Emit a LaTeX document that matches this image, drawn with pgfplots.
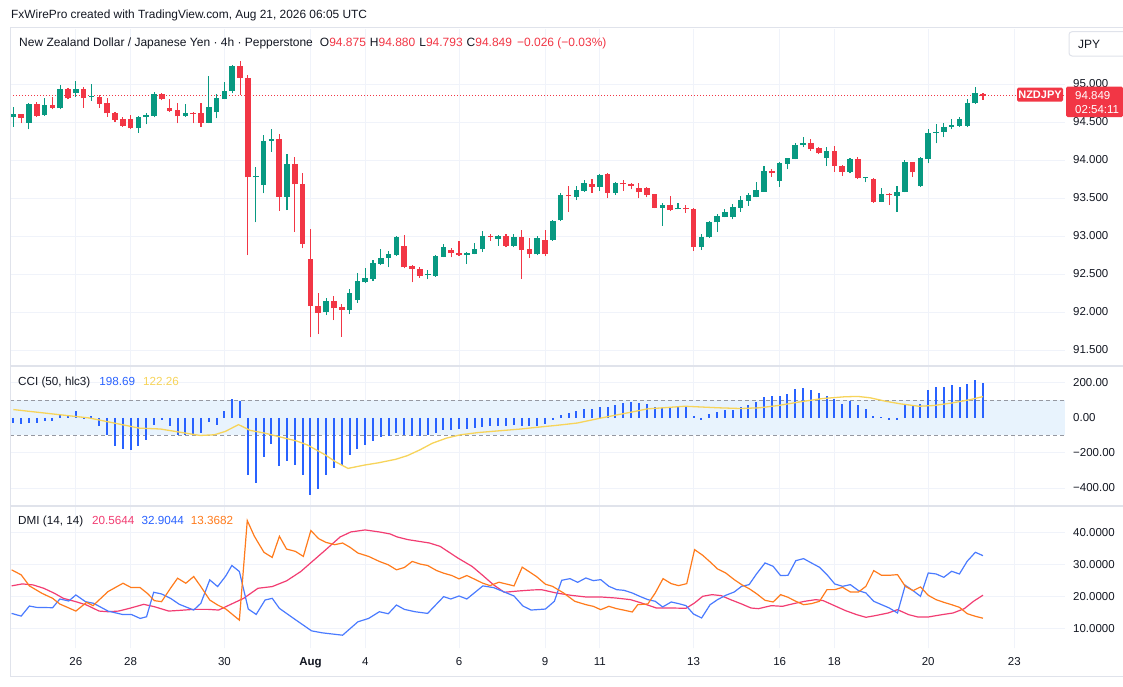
\documentclass[border=0pt]{standalone}
\usepackage{fontspec}
\setmainfont{Liberation Sans}
\usepackage{pgfplots}
\pgfplotsset{compat=1.18}
\usepackage{pgfplotstable}
\definecolor{tvgreen}{HTML}{089981}
\definecolor{tvred}{HTML}{F23645}
\definecolor{tvgrid}{HTML}{F0F3FA}
\definecolor{tvtext}{HTML}{131722}
\definecolor{tvborder}{HTML}{E0E3EB}
\definecolor{cciblue}{HTML}{2962FF}
\definecolor{ccima}{HTML}{F7D45A}
\definecolor{cciband}{HTML}{E8F3FD}
\definecolor{bandline}{HTML}{9598A1}
\definecolor{adxpink}{HTML}{F23D72}
\definecolor{diblue}{HTML}{4A7BFF}
\definecolor{diorange}{HTML}{FF7B1C}

\pgfplotstableread{
i O H L C
1 94.562 94.693 94.439 94.601
2 94.601 94.610 94.483 94.557
3 94.491 94.755 94.404 94.737
4 94.737 94.768 94.570 94.584
5 94.592 94.812 94.584 94.724
6 94.724 94.834 94.667 94.689
7 94.680 94.983 94.667 94.934
8 94.934 94.943 94.799 94.812
9 94.877 95.044 94.834 94.934
10 94.934 94.965 94.689 94.812
11 94.825 94.996 94.781 94.842
12 94.829 94.856 94.689 94.741
13 94.746 94.812 94.570 94.614
14 94.623 94.636 94.505 94.527
15 94.535 94.562 94.439 94.448
16 94.535 94.592 94.408 94.417
17 94.417 94.584 94.360 94.566
18 94.566 94.623 94.470 94.588
19 94.584 94.895 94.562 94.864
20 94.864 94.877 94.785 94.803
21 94.680 94.799 94.636 94.645
22 94.654 94.746 94.483 94.575
23 94.579 94.737 94.570 94.614
24 94.623 94.636 94.483 94.610
25 94.614 94.746 94.439 94.491
26 94.491 95.106 94.483 94.693
27 94.627 94.869 94.548 94.812
28 94.803 95.022 94.799 94.913
29 94.913 95.250 94.877 95.237
30 95.237 95.303 94.856 95.084
31 95.084 95.119 92.750 93.772
32 93.772 93.913 93.180 93.794
33 93.671 94.329 93.562 94.255
34 94.250 94.408 94.110 94.277
35 94.277 94.342 93.334 93.518
36 93.518 94.075 93.342 93.948
37 93.948 94.035 93.057 93.680
38 93.684 93.834 92.838 92.899
39 92.698 93.092 91.667 92.079
40 92.084 92.255 91.711 91.991
41 91.996 92.180 91.961 92.149
42 92.149 92.211 91.895 92.048
43 92.066 92.101 91.676 92.027
44 92.027 92.299 91.974 92.255
45 92.158 92.509 92.123 92.404
46 92.390 92.575 92.377 92.443
47 92.434 92.684 92.408 92.640
48 92.636 92.825 92.618 92.715
49 92.715 92.803 92.588 92.759
50 92.750 93.000 92.737 92.983
51 92.873 93.013 92.575 92.588
52 92.605 92.618 92.390 92.566
53 92.570 92.597 92.452 92.478
54 92.487 92.553 92.430 92.500
55 92.478 92.746 92.465 92.737
56 92.728 92.895 92.719 92.860
57 92.812 92.847 92.719 92.776
58 92.781 92.934 92.737 92.750
59 92.750 92.794 92.632 92.781
60 92.768 92.904 92.759 92.829
61 92.825 93.066 92.794 93.000
62 93.000 93.026 92.939 92.987
63 92.965 93.013 92.869 93.000
64 93.000 93.022 92.851 92.869
65 92.869 93.022 92.851 92.991
66 92.983 93.079 92.434 92.816
67 92.825 92.969 92.715 92.763
68 92.759 93.000 92.750 92.969
69 92.947 93.079 92.737 92.759
70 92.947 93.211 92.939 93.202
71 93.206 93.561 93.197 93.539
72 93.539 93.658 93.320 93.522
73 93.518 93.658 93.474 93.601
74 93.597 93.737 93.583 93.693
75 93.684 93.746 93.570 93.649
76 93.649 93.816 93.597 93.803
77 93.812 93.833 93.496 93.570
78 93.570 93.715 93.540 93.693
79 93.693 93.737 93.597 93.680
80 93.684 93.702 93.614 93.662
81 93.627 93.693 93.496 93.575
82 93.627 93.640 93.509 93.539
83 93.548 93.553 93.364 93.373
84 93.373 93.430 93.136 93.404
85 93.408 93.526 93.329 93.342
86 93.351 93.430 93.351 93.364
87 93.364 93.408 93.307 93.351
88 93.355 93.364 92.807 92.855
89 92.860 93.027 92.816 92.991
90 92.983 93.202 92.978 93.189
91 93.180 93.290 93.057 93.268
92 93.255 93.351 93.246 93.320
93 93.255 93.417 93.219 93.386
94 93.373 93.527 93.320 93.474
95 93.465 93.570 93.399 93.540
96 93.518 93.715 93.509 93.605
97 93.583 93.921 93.579 93.855
98 93.855 93.877 93.781 93.825
99 93.728 93.978 93.649 93.956
100 93.948 94.031 93.877 94.022
101 94.013 94.228 94.009 94.198
102 94.198 94.298 94.167 94.220
103 94.220 94.272 94.123 94.141
104 94.154 94.167 94.079 94.088
105 94.022 94.176 93.921 94.119
106 94.119 94.184 93.847 93.921
107 93.921 93.934 93.790 93.847
108 93.847 94.022 93.825 94.009
109 94.009 94.035 93.755 93.759
110 93.759 93.781 93.706 93.772
111 93.750 93.759 93.439 93.452
112 93.452 93.636 93.445 93.548
113 93.548 93.570 93.408 93.535
114 93.531 93.658 93.320 93.575
115 93.583 94.000 93.575 93.969
116 93.969 93.978 93.781 93.838
117 93.658 94.035 93.649 94.022
118 94.013 94.404 93.956 94.360
119 94.360 94.474 94.220 94.373
120 94.364 94.483 94.298 94.439
121 94.439 94.535 94.404 94.461
122 94.452 94.562 94.439 94.535
123 94.448 94.799 94.430 94.755
124 94.746 94.965 94.740 94.877
125 94.875 94.880 94.793 94.849
}\candles

\pgfplotstableread{
i v
1 -29
2 -35
3 -29
4 -29
5 -19
6 -15
7 23
8 19
9 42
10 -8
11 10
12 -48
13 -100
14 -160
15 -179
16 -182
17 -160
18 -127
19 -38
20 -10
21 -48
22 -96
23 -96
24 -100
25 -86
26 -25
27 -38
28 38
29 111
30 96
31 -326
32 -374
33 -221
34 -148
35 -273
36 -244
37 -269
38 -326
39 -438
40 -403
41 -323
42 -284
43 -269
44 -211
45 -177
46 -157
47 -131
48 -111
49 -102
50 -86
51 -96
52 -102
53 -102
54 -96
55 -86
56 -71
57 -67
58 -63
59 -61
60 -58
61 -52
62 -48
63 -48
64 -44
65 -38
66 -48
67 -44
68 -44
69 -32
70 -10
71 19
72 29
73 38
74 52
75 52
76 63
77 61
78 73
79 83
80 90
81 83
82 81
83 63
84 58
85 61
86 61
87 63
88 13
89 -10
90 23
91 33
92 48
93 48
94 63
95 73
96 92
97 121
98 125
99 125
100 138
101 163
102 173
103 159
104 140
105 125
106 106
107 77
108 96
109 73
110 52
111 13
112 6
113 -10
114 -10
115 73
116 73
117 81
118 157
119 179
120 179
121 186
122 179
123 196
124 217
125 198.69
}\ccidata

\pgfplotstableread{
i v
1 48
10.7 0
17.1 -58
19.8 -63
24.9 -100
26.7 -96
28.1 -77
29.8 -38
31.3 -71
33.1 -86
34.9 -106
37.2 -131
38.6 -154
40.9 -211
42.2 -250
43.8 -288
45.9 -269
47.7 -256
49.9 -236
51.4 -215
53.0 -182
54.6 -144
56.4 -115
58.2 -96
60.5 -83
63.2 -73
65.9 -63
67.8 -54
70.5 -42
73.1 -29
76.2 0
77.9 15
80.0 33
82.1 52
85.0 61
86.9 67
88.8 63
91.2 58
94.0 54
96.4 58
98.8 71
101.6 92
104.5 111
107.3 121
109.0 123
110.6 115
112.5 96
114.4 81
116.8 67
118.7 71
121.1 86
123.5 106
125 122.26
}\ccima

\pgfplotstableread{
i v
0.78 23.46
2.15 24.08
3.52 23.77
4.89 22.72
6.26 21.15
7.40 19.58
9.00 18.53
10.37 17.49
11.97 15.60
13.11 15.39
14.48 15.60
15.85 16.44
17.68 17.70
19.05 16.96
20.87 15.60
22.24 15.81
24.07 16.13
25.89 16.13
27.26 15.92
28.63 17.49
30.46 19.58
32.29 22.72
34.11 23.25
35.94 25.03
37.77 27.96
39.14 30.89
40.96 34.76
42.79 38.74
44.16 40.31
45.99 40.94
47.81 40.31
49.18 39.69
50.10 38.74
51.47 37.91
54.21 36.86
55.58 35.81
57.86 32.15
59.68 29.53
61.05 26.70
62.42 23.77
63.79 21.47
65.62 21.88
67.45 22.20
68.53 22.29
70.42 21.25
72.32 20.52
74.22 20.00
76.12 20.00
78.01 19.69
79.91 19.17
81.33 18.13
83.23 16.56
85.13 16.56
87.03 16.46
88.12 18.13
89.16 20.21
90.35 20.73
91.53 20.42
92.72 19.17
94.14 17.81
95.33 16.56
96.28 16.35
97.94 17.29
99.36 17.08
100.78 17.92
102.21 18.65
103.63 19.17
104.58 18.85
106.00 17.29
107.43 15.73
108.85 14.48
110.03 13.65
111.22 14.17
112.88 15.00
114.07 16.04
115.49 14.48
116.68 13.75
118.00 13.75
119.76 14.48
121.18 15.00
122.61 16.35
123.79 18.65
125.00 20.56
}\adx

\pgfplotstableread{
i v
0.78 14.87
2.01 14.03
3.06 17.17
3.98 16.75
6.03 16.65
6.95 19.37
8.09 18.74
9.00 20.63
10.23 18.53
11.28 18.01
13.11 15.60
14.94 14.55
16.08 14.55
17.22 13.30
18.04 13.82
18.95 21.47
19.96 20.94
21.10 19.58
22.24 17.70
24.07 15.92
24.98 18.01
26.12 25.34
27.13 23.25
28.18 26.60
28.95 29.84
29.91 27.96
31.05 16.23
32.06 14.55
33.20 19.06
34.11 19.58
35.03 16.44
36.85 13.30
39.14 9.42
40.51 8.80
43.11 8.06
45.07 12.25
46.44 13.30
47.81 15.39
48.95 14.76
50.00 17.49
51.01 16.13
52.38 15.39
53.98 14.87
56.03 20.10
56.95 19.37
58.00 20.31
59.00 19.37
61.05 23.46
62.42 22.93
65.03 20.31
66.17 17.17
67.22 15.92
69.05 16.23
70.19 18.65
71.13 25.21
72.18 25.73
73.17 24.58
74.22 25.94
75.17 25.10
76.12 25.42
77.16 23.33
78.16 22.29
79.10 22.08
80.15 21.25
81.10 20.21
82.14 19.17
83.09 18.65
84.04 16.88
85.13 18.44
86.08 17.92
87.03 17.29
87.98 14.69
89.02 13.44
90.11 17.60
91.06 19.17
92.10 20.52
93.19 21.56
94.14 23.33
95.09 23.85
96.04 27.19
97.13 30.63
98.17 29.58
99.12 26.67
100.07 26.77
101.07 31.35
102.06 31.98
103.06 30.63
104.10 29.27
105.05 26.98
106.05 24.06
107.05 23.33
108.04 23.85
109.09 21.98
110.03 21.25
111.03 18.65
112.03 17.60
113.02 16.56
114.07 15.00
115.06 23.65
116.06 21.98
117.01 20.21
118.00 27.50
119.00 27.19
119.99 26.15
120.99 28.02
121.99 27.19
122.98 31.15
124.03 33.96
125.00 32.90
}\diplus

\pgfplotstableread{
i v
0.78 28.48
2.01 26.91
3.06 23.46
4.66 21.15
6.03 19.58
6.95 17.80
9.00 15.60
10.37 18.32
11.19 17.28
13.11 21.68
15.03 24.29
16.08 22.93
17.22 22.93
18.13 21.15
19.05 18.85
19.96 18.53
21.10 22.72
22.01 25.86
23.06 24.29
24.07 26.39
24.98 23.25
26.12 19.06
27.13 17.49
28.18 16.23
29.91 12.77
30.92 43.87
31.83 38.95
33.06 33.93
34.11 32.36
35.03 38.95
35.94 34.97
37.08 34.24
38.09 32.67
39.05 40.73
40.05 38.22
40.96 37.07
42.11 36.34
43.11 36.86
44.07 35.50
45.07 33.72
46.44 32.67
47.81 31.10
48.95 30.05
50.00 28.48
51.01 29.21
52.01 31.10
53.06 30.26
53.98 29.84
55.12 28.27
56.03 27.43
57.08 26.70
58.00 25.65
59.00 26.70
59.91 25.65
61.05 24.29
61.97 23.56
63.11 24.61
65.03 23.46
66.08 29.32
67.90 26.39
69.05 23.98
69.95 23.33
71.37 21.25
72.80 18.65
74.22 17.60
75.17 17.08
76.12 16.04
77.16 17.08
78.16 16.35
79.20 15.83
80.15 15.31
80.86 17.60
82.14 17.81
83.09 21.25
84.09 25.73
85.13 24.17
86.08 23.54
87.12 24.17
88.12 34.79
89.16 33.02
90.11 30.94
91.06 28.75
92.10 27.50
93.19 25.42
94.14 23.85
95.09 22.60
96.04 21.04
97.13 18.96
98.17 18.44
99.12 20.73
100.07 19.90
101.07 18.65
102.06 17.60
103.06 17.92
104.10 18.65
105.05 22.29
106.05 22.29
107.05 23.02
108.04 21.56
109.09 21.56
110.03 23.33
111.03 28.23
112.03 26.77
113.02 26.77
114.07 26.98
115.06 23.33
116.06 21.98
117.01 23.13
118.00 20.52
119.00 19.17
119.99 18.33
120.99 17.60
121.99 16.77
122.98 14.79
124.03 13.96
125.00 13.37
}\diminus

\pgfplotsset{
  tvpane/.style={
    scale only axis, width=1055pt,
    xmin=0.578, xmax=135.49,
    axis line style={draw=none},
    major tick length=0pt,
    xtick={9,16,28,39,46,58,69,76,88,99,106,118,129},
    xmajorgrids, ymajorgrids,
    grid style={color=tvgrid, line width=1pt},
    ytick pos=right, yticklabel pos=right,
    yticklabel style={anchor=west, inner sep=0pt, xshift=8pt},
    tick label style={font=\fontsize{11.5}{13}\selectfont, text=tvtext},
    /pgf/number format/assume math mode=true,
  },
  wick/.style={only marks, mark=*, mark size=0.1pt, mark options={opacity=0}, forget plot,
    error bars/.cd, y dir=plus, y explicit, error mark=none,
    error bar style={line width=1.1pt, color=#1}},
  body/.style={only marks, mark=*, mark size=0.1pt, mark options={opacity=0}, forget plot,
    error bars/.cd, y dir=plus, y explicit, error mark=none,
    error bar style={line width=5.6pt, color=#1}},
}

\begin{document}
\begin{tikzpicture}[x=1pt,y=1pt]
\useasboundingbox (0,0) rectangle (1123,-686);
\clip (0,0) rectangle (1123,-686);
\fill[white] (0,0) rectangle (1123,-686);

% ---------- main price pane ----------
\begin{axis}[tvpane, at={(10pt,-29pt)}, anchor=north west, height=336pt,
  ymin=91.303, ymax=95.724,
  ytick={91.5,92,92.5,93,93.5,94,94.5,95},
  yticklabels={91.500,92.000,92.500,93.000,93.500,94.000,94.500,95.000},
  xticklabels={}]
\addplot[tvred, dash pattern=on 1pt off 2pt, line width=0.8pt] coordinates {(0.578,94.849) (135.49,94.849)};
\addplot[wick=tvgreen] table[x=i, y=L, y error plus expr={\thisrow{H}-\thisrow{L}},
  restrict expr to domain={\thisrow{C}-\thisrow{O}}{0:10}] {\candles};
\addplot[wick=tvred] table[x=i, y=L, y error plus expr={\thisrow{H}-\thisrow{L}},
  restrict expr to domain={\thisrow{O}-\thisrow{C}}{0.00001:10}] {\candles};
\addplot[body=tvgreen] table[x=i, y=O, y error plus expr={max(\thisrow{C}-\thisrow{O},0.014)},
  restrict expr to domain={\thisrow{C}-\thisrow{O}}{0:10}] {\candles};
\addplot[body=tvred] table[x=i, y=C, y error plus expr={max(\thisrow{O}-\thisrow{C},0.014)},
  restrict expr to domain={\thisrow{O}-\thisrow{C}}{0.00001:10}] {\candles};
\end{axis}

% ---------- CCI pane ----------
\begin{axis}[tvpane, at={(10pt,-367pt)}, anchor=north west, height=138pt,
  ymin=-497, ymax=291,
  ytick={-400,-200,0,200},
  yticklabels={−400.00,−200.00,0.00,200.00},
  xticklabels={}]
\addplot[fill=cciband, draw=none] coordinates {(0.578,-100) (135.49,-100) (135.49,100) (0.578,100)} -- cycle;
\addplot[bandline, dash pattern=on 4pt off 3pt, line width=0.9pt] coordinates {(0.578,100) (135.49,100)};
\addplot[bandline, dash pattern=on 4pt off 3pt, line width=0.9pt] coordinates {(0.578,-100) (135.49,-100)};
\addplot[ycomb, cciblue, line width=2pt] table[x=i, y=v] {\ccidata};
\addplot[ccima, line width=1.3pt] table[x=i, y=v] {\ccima};
\end{axis}

% ---------- DMI pane ----------
\begin{axis}[tvpane, at={(10pt,-507pt)}, anchor=north west, height=141pt,
  ymin=4.06, ymax=48.1,
  ytick={10,20,30,40},
  yticklabels={10.0000,20.0000,30.0000,40.0000},
  xticklabels={26,28,30,\textbf{Aug},4,6,9,11,13,16,18,20,23},
  xticklabel style={anchor=north, inner sep=0pt, yshift=-9pt}]
\addplot[adxpink, line width=1.2pt] table[x=i, y=v] {\adx};
\addplot[diblue, line width=1.2pt] table[x=i, y=v] {\diplus};
\addplot[diorange, line width=1.2pt] table[x=i, y=v] {\diminus};
\end{axis}

% ---------- frame & separators ----------
\draw[tvborder, line width=1pt] (10,-27.5) -- (1123,-27.5);
\draw[tvborder, line width=1pt] (10,-27.5) -- (10,-676);
\draw[tvborder, line width=1pt] (10,-676) -- (1123,-676);
\draw[tvborder, line width=2pt] (10,-366) -- (1123,-366);
\draw[tvborder, line width=2pt] (10,-506) -- (1123,-506);

% ---------- texts ----------
\node[anchor=west, inner sep=0pt, text=tvtext, font=\fontsize{11.9}{13}\selectfont] at (11,-15)
  {FxWirePro created with TradingView.com, Aug 21, 2026 06:05 UTC};
\node[anchor=west, inner sep=0pt, text=tvtext, font=\fontsize{12}{13}\selectfont] at (19,-43)
  {New Zealand Dollar / Japanese Yen · 4h · Pepperstone\hspace{7pt}O\textcolor{tvred}{94.875}\hspace{4pt}H\textcolor{tvred}{94.880}\hspace{4pt}L\textcolor{tvred}{94.793}\hspace{4pt}C\textcolor{tvred}{94.849}\hspace{5pt}\textcolor{tvred}{−0.026 (−0.03\%)}};
\node[anchor=west, inner sep=0pt, text=tvtext, font=\fontsize{11.7}{13}\selectfont] at (18,-382)
  {CCI (50, hlc3)\hspace{9pt}\textcolor{cciblue}{198.69}\hspace{8pt}\textcolor{ccima}{122.26}};
\node[anchor=west, inner sep=0pt, text=tvtext, font=\fontsize{11.7}{13}\selectfont] at (18,-521)
  {DMI (14, 14)\hspace{9pt}\textcolor{adxpink}{20.5644}\hspace{7pt}\textcolor{cciblue}{32.9044}\hspace{7pt}\textcolor{diorange}{13.3682}};

% JPY box
\draw[tvborder, line width=1pt, rounded corners=3pt, fill=white] (1069,-31.7) rectangle (1130,-56);
\node[anchor=west, inner sep=0pt, text=tvtext, font=\fontsize{12}{13}\selectfont] at (1078,-44) {JPY};

% price labels
\fill[tvred, rounded corners=1.5pt] (1017,-87.7) rectangle (1063,-101.7);
\node[text=white, font=\bfseries\fontsize{11}{12}\selectfont] at (1040,-94.7) {NZDJPY};
\fill[tvred, rounded corners=1.5pt] (1066,-86.7) rectangle (1123,-117);
\node[anchor=west, inner sep=0pt, text=white, font=\fontsize{11.5}{13}\selectfont] at (1075,-95.5) {94.849};
\node[anchor=west, inner sep=0pt, text=white, font=\fontsize{11.5}{13}\selectfont] at (1075,-109.5) {02:54:11};
\end{tikzpicture}
\end{document}
